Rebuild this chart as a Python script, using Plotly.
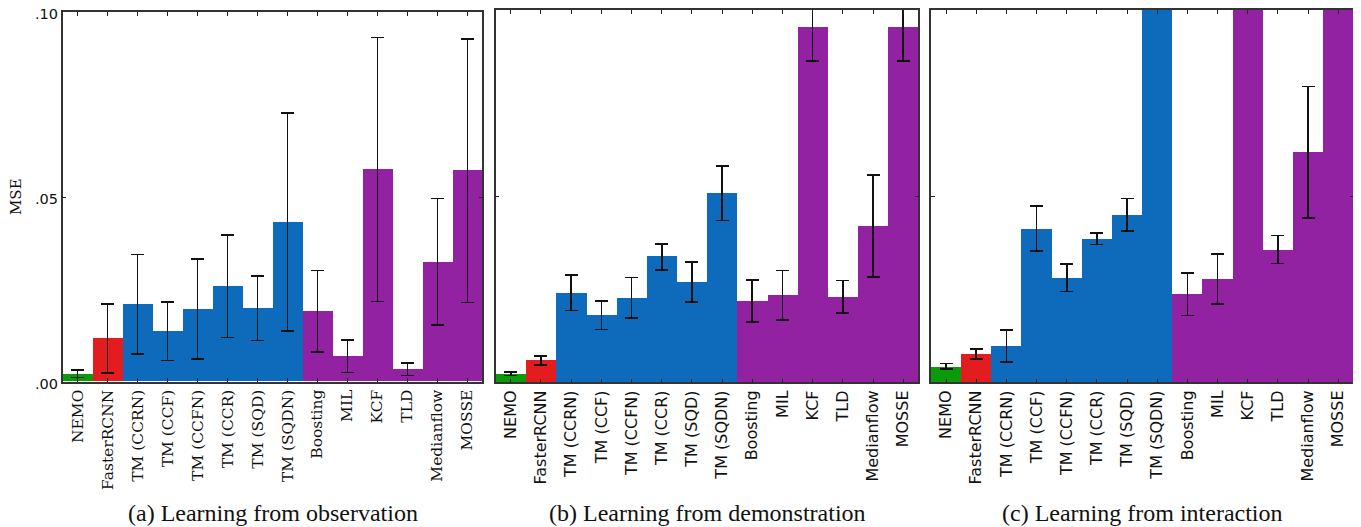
import plotly.graph_objects as go

categories = ["NEMO", "FasterRCNN", "TM (CCRN)", "TM (CCF)", "TM (CCFN)", "TM (CCR)",
              "TM (SQD)", "TM (SQDN)", "Boosting", "MIL", "KCF", "TLD", "Medianflow", "MOSSE"]
group_colors = ["#0a9a0a", "#e31c1f", "#0e6bbb", "#0e6bbb", "#0e6bbb", "#0e6bbb",
                "#0e6bbb", "#0e6bbb", "#9322a3", "#9322a3", "#9322a3", "#9322a3", "#9322a3", "#9322a3"]

# (a) Learning from observation: mean, lower and upper bound of error bar
obs_mean = [0.0021, 0.0118, 0.0210, 0.0137, 0.0197, 0.0259, 0.0200, 0.0432, 0.0191, 0.0070, 0.0576, 0.0034, 0.0324, 0.0573]
obs_low  = [0.0011, 0.0024, 0.0075, 0.0057, 0.0061, 0.0120, 0.0111, 0.0137, 0.0080, 0.0025, 0.0217, 0.0017, 0.0153, 0.0214]
obs_high = [0.0032, 0.0210, 0.0344, 0.0216, 0.0332, 0.0397, 0.0286, 0.0728, 0.0301, 0.0113, 0.0932, 0.0051, 0.0496, 0.0928]

# (b) Learning from demonstration
dem_mean = [0.0022, 0.0060, 0.0240, 0.0181, 0.0226, 0.0339, 0.0269, 0.0508, 0.0218, 0.0234, 0.0954, 0.0230, 0.0420, 0.0954]
dem_low  = [0.0018, 0.0047, 0.0193, 0.0142, 0.0173, 0.0302, 0.0216, 0.0435, 0.0162, 0.0168, 0.0863, 0.0186, 0.0283, 0.0863]
dem_high = [0.0027, 0.0071, 0.0288, 0.0218, 0.0281, 0.0372, 0.0323, 0.0581, 0.0275, 0.0300, 0.1045, 0.0273, 0.0557, 0.1045]

# (c) Learning from interaction (bars beyond .10 are clipped, no visible error bar)
int_mean = [0.0041, 0.0076, 0.0098, 0.0412, 0.0280, 0.0385, 0.0450, 0.12, 0.0237, 0.0277, 0.12, 0.0355, 0.0619, 0.12]
int_low  = [0.0036, 0.0063, 0.0054, 0.0352, 0.0244, 0.0370, 0.0406, 0.12, 0.0179, 0.0211, 0.12, 0.0319, 0.0442, 0.12]
int_high = [0.0050, 0.0090, 0.0140, 0.0474, 0.0317, 0.0401, 0.0494, 0.12, 0.0294, 0.0345, 0.12, 0.0394, 0.0794, 0.12]

y_ticks = [0.0, 0.05, 0.10]
y_ticklabels = [".00", ".05", ".10"]
captions = ["(a) Learning from observation", "(b) Learning from demonstration", "(c) Learning from interaction"]

W, H = 1361, 527
OFF = 8  # the page body has an 8px margin; layout positions below are page pixels


def px(x):
    return (x - OFF) / W


def py(y):
    return 1 - (y - OFF) / H


panels = [
    (obs_mean, obs_low, obs_high, (62.7, 482.3), (12.3, 381.7), "DejaVu Serif", 15.5),
    (dem_mean, dem_low, dem_high, (495.7, 918.3), (10.0, 382.3), "DejaVu Sans", 16),
    (int_mean, int_low, int_high, (931.0, 1353.3), (10.0, 382.3), "DejaVu Sans", 16),
]

fig = go.Figure()
for i, (mean, low, high, (x0, x1), (ytop, ybot), xfont, xsize) in enumerate(panels):
    n = i + 1
    xa = "x" if n == 1 else f"x{n}"
    ya = "y" if n == 1 else f"y{n}"
    plus = [h - m for m, h in zip(mean, high)]
    minus = [m - l for m, l in zip(mean, low)]
    fig.add_trace(go.Bar(
        x=categories, y=mean, xaxis=xa, yaxis=ya,
        marker=dict(color=group_colors, line=dict(width=0)),
        error_y=dict(type="data", symmetric=False, array=plus, arrayminus=minus,
                     color="#111111", thickness=1.6, width=6.5),
        showlegend=False, hoverinfo="x+y",
    ))
    axis_common = dict(showline=True, linecolor="#333333", linewidth=1.5, mirror="ticks",
                       ticks="inside", ticklen=4, tickcolor="#222222", tickwidth=1.2,
                       showgrid=False, zeroline=False, automargin=False,
                       ticklabeloverflow="allow")
    fig.update_layout(**{
        ("xaxis" if n == 1 else f"xaxis{n}"): dict(
            domain=[px(x0), px(x1)], anchor=ya, type="category",
            tickangle=-90, tickfont=dict(family=xfont, size=xsize, color="#111111"),
            **axis_common),
        ("yaxis" if n == 1 else f"yaxis{n}"): dict(
            domain=[py(ybot), py(ytop)], anchor=xa, range=[0, 0.1],
            tickvals=y_ticks, ticktext=y_ticklabels if n == 1 else ["", "", ""],
            showticklabels=(n == 1), ticklabelshift=2,
            tickfont=dict(family="DejaVu Sans", size=14.5, color="#111111"),
            **axis_common),
    })
    fig.add_annotation(text=captions[i], x=px((x0 + x1) / 2), y=py(513),
                       xref="paper", yref="paper", showarrow=False,
                       font=dict(family="Liberation Serif", size=24, color="#111111"),
                       xanchor="center", yanchor="middle")

fig.add_annotation(text="MSE", x=px(16), y=py(197), xref="paper", yref="paper",
                   showarrow=False, textangle=-90,
                   font=dict(family="DejaVu Serif", size=15, color="#111111"),
                   xanchor="center", yanchor="middle")

fig.update_layout(width=W, height=H, margin=dict(l=0, r=0, t=0, b=0),
                  bargap=0, paper_bgcolor="white", plot_bgcolor="white")
fig.write_html("out.html")
